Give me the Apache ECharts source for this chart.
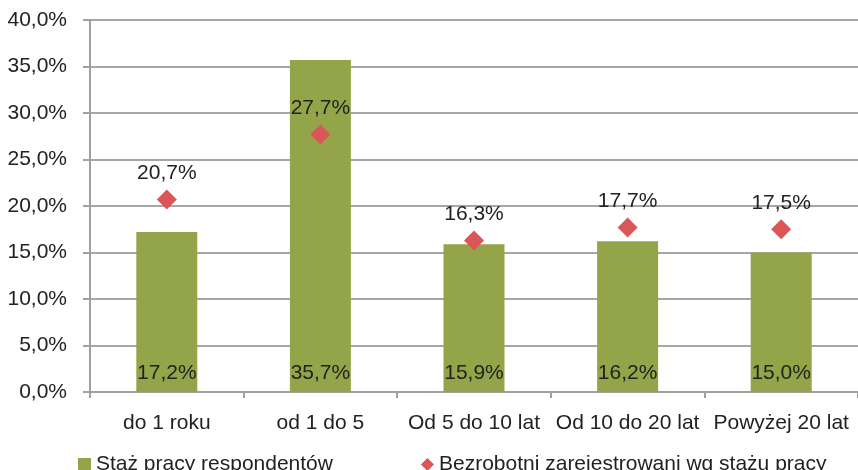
<!DOCTYPE html>
<html><head><meta charset="utf-8">
<script src="https://cdn.jsdelivr.net/npm/echarts@6/dist/echarts.min.js"></script>
<style>html,body{margin:0;padding:0;background:#fff}#c{width:858px;height:470px}</style>
</head><body><div id="c"></div>
<script>
var categories = ['do 1 roku', 'od 1 do 5', 'Od 5 do 10 lat', 'Od 10 do 20 lat', 'Powyżej 20 lat'];
var respondenci = [17.2, 35.7, 15.9, 16.2, 15.0];
var bezrobotni = [20.7, 27.7, 16.3, 17.7, 17.5];
var seriesNames = ['Staż pracy respondentów', 'Bezrobotni zarejestrowani wg stażu pracy'];
var yTicks = {min: 0, max: 40, interval: 5};

function pct(v){ return v.toFixed(1).replace('.', ',') + '%'; }
var FONT = 'Liberation Sans, Arial, sans-serif';
var FS = 21;
var chart = echarts.init(document.getElementById('c'), null, {renderer: 'canvas'});
chart.setOption({
  animation: false,
  textStyle: {fontFamily: FONT},
  grid: {left: 90, top: 20, width: 774, height: 372, containLabel: false},
  legend: {
    left: 73, top: 449, itemGap: 88, itemWidth: 13, itemHeight: 13,
    textStyle: {fontSize: FS, color: '#222', fontFamily: FONT},
    data: [{name: seriesNames[0], icon: 'rect'}, {name: seriesNames[1], icon: 'diamond'}]
  },
  xAxis: {
    type: 'category', data: categories,
    axisLine: {lineStyle: {color: '#A0A0A0', width: 2}},
    axisTick: {show: true, length: 6, lineStyle: {color: '#A0A0A0', width: 2}},
    axisLabel: {fontSize: FS, color: '#222', margin: 21, interval: 0, fontFamily: FONT}
  },
  yAxis: {
    type: 'value', min: yTicks.min, max: yTicks.max, interval: yTicks.interval,
    axisLine: {show: true, lineStyle: {color: '#A0A0A0', width: 2}},
    axisTick: {show: true, length: 7, lineStyle: {color: '#A0A0A0', width: 2}},
    splitLine: {lineStyle: {color: '#A6A6A6', width: 2}},
    axisLabel: {fontSize: FS, color: '#222', margin: 23, fontFamily: FONT, formatter: function(v){ return pct(v); }}
  },
  series: [
    {
      name: seriesNames[0], type: 'bar', data: respondenci, barWidth: 61,
      itemStyle: {color: '#93A548'},
      label: {show: true, position: 'insideBottom', distance: 8, fontSize: FS, color: '#222', fontFamily: FONT,
        formatter: function(p){ return pct(p.value); }}
    },
    {
      name: seriesNames[1], type: 'scatter', data: bezrobotni, symbol: 'diamond', symbolSize: 20,
      itemStyle: {color: '#DB5656', opacity: 1}, z: 5,
      label: {show: true, position: 'top', distance: 6, fontSize: FS, color: '#222', fontFamily: FONT,
        formatter: function(p){ return pct(p.value); }}
    }
  ]
});
</script></body></html>
